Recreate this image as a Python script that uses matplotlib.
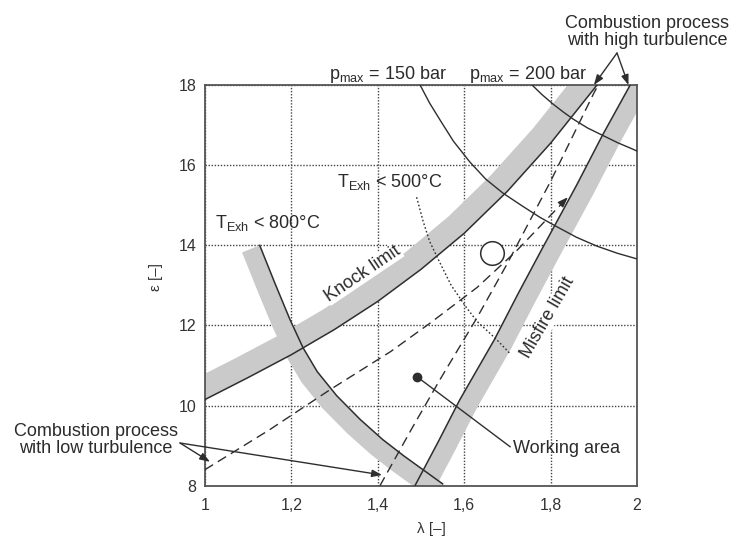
import numpy as np
import matplotlib.pyplot as plt

plt.rcParams['font.family'] = ['Liberation Sans', 'DejaVu Sans']
plt.rcParams['mathtext.default'] = 'regular'

ink = '#2e2e2e'
band_grey = '#cacaca'

# limit curves, lambda vs compression ratio epsilon
knock_lam = [1.0, 1.1, 1.2, 1.3, 1.4, 1.5, 1.6, 1.7, 1.8, 1.9, 1.907]
knock_eps = [10.15, 10.7, 11.27, 11.9, 12.6, 13.4, 14.3, 15.35, 16.55, 17.9, 18.0]

misfire_lam = [1.486, 1.54, 1.59, 1.67, 1.725, 1.782, 1.86, 1.92, 1.984]
misfire_eps = [8.0, 9.1, 10.15, 11.65, 12.8, 13.95, 15.5, 16.75, 18.0]

t800_lam = [1.127, 1.162, 1.197, 1.227, 1.26, 1.305, 1.36, 1.412, 1.46, 1.505, 1.55]
t800_eps = [14.0, 13.06, 12.15, 11.45, 10.85, 10.25, 9.65, 9.15, 8.75, 8.4, 8.05]

# low turbulence limits (dashed)
knock_low_lam = [1.0, 1.15, 1.29, 1.43, 1.52, 1.63, 1.72, 1.84]
knock_low_eps = [8.4, 9.4, 10.4, 11.35, 12.05, 12.95, 13.85, 15.2]
misfire_low_lam = [1.405, 1.48, 1.544, 1.63, 1.70, 1.80, 1.90, 1.91]
misfire_low_eps = [8.0, 9.45, 10.65, 12.2, 13.55, 15.6, 17.8, 18.0]

# exhaust temperature 500 C (dotted)
t500_lam = [1.49, 1.505, 1.52, 1.54, 1.57, 1.605, 1.63, 1.675, 1.706]
t500_eps = [15.2, 14.6, 14.1, 13.65, 13.0, 12.45, 12.1, 11.65, 11.3]

# peak pressure lines
p150_lam = [1.498, 1.52, 1.544, 1.575, 1.613, 1.65, 1.69, 1.736, 1.775, 1.815,
            1.86, 1.907, 1.955, 2.0]
p150_eps = [18.0, 17.55, 17.13, 16.6, 16.08, 15.65, 15.3, 14.97, 14.7, 14.46,
            14.2, 13.98, 13.8, 13.66]
p200_lam = [1.757, 1.78, 1.806, 1.83, 1.852, 1.885, 1.921, 1.955, 1.99, 2.0]
p200_eps = [18.0, 17.76, 17.52, 17.32, 17.15, 16.93, 16.74, 16.56, 16.4, 16.35]

opt_point = (1.664, 13.81)
work_point = (1.491, 10.72)

xticks = [1.0, 1.2, 1.4, 1.6, 1.8, 2.0]
xtick_labels = ['1', '1,2', '1,4', '1,6', '1,8', '2']
yticks = [8, 10, 12, 14, 16, 18]

fig = plt.figure(figsize=(7.34, 5.38), dpi=100)
ax = fig.add_axes([0.279, 0.097, 0.589, 0.745])
ax.set_xlim(1, 2)
ax.set_ylim(8, 18)
ax.set_xticks(xticks)
ax.set_xticklabels(xtick_labels)
ax.set_yticks(yticks)
ax.tick_params(length=0, labelsize=11.5, labelcolor='#333333')
ax.tick_params(axis='x', pad=9)
ax.tick_params(axis='y', pad=6)
for s in ax.spines.values():
    s.set_color('#555555')
    s.set_linewidth(1.3)
ax.set_axisbelow(True)
ax.grid(True, ls=(0, (1, 1.2)), color='#444444', lw=1.0)


def band(xs, ys, width, side, ext=(True, True)):
    # grey strip running along one side of a limit curve, built in pixel space
    pts = ax.transData.transform(np.column_stack([xs, ys]))
    d0 = pts[0] - pts[1]
    d1 = pts[-1] - pts[-2]
    d0 /= np.hypot(*d0)
    d1 /= np.hypot(*d1)
    if ext[0]:
        pts = np.vstack([pts[0] + d0 * 40, pts])
    if ext[1]:
        pts = np.vstack([pts, pts[-1] + d1 * 40])
    t = np.gradient(pts, axis=0)
    t /= np.hypot(t[:, 0], t[:, 1])[:, None]
    n = side * np.column_stack([-t[:, 1], t[:, 0]])
    outer = pts + n * width
    poly = ax.transData.inverted().transform(np.vstack([pts, outer[::-1]]))
    ax.fill(poly[:, 0], poly[:, 1], color=band_grey, lw=0, zorder=1)


band(knock_lam, knock_eps, 23, 1)
band(t800_lam, t800_eps, 19, -1, ext=(False, True))
band(misfire_lam, misfire_eps, 19, -1)

ax.plot(knock_lam, knock_eps, color=ink, lw=1.1, zorder=3)
ax.plot(misfire_lam, misfire_eps, color=ink, lw=1.1, zorder=3)
ax.plot(t800_lam, t800_eps, color=ink, lw=1.1, zorder=3)
ax.plot(p150_lam, p150_eps, color=ink, lw=1.0, zorder=3)
ax.plot(p200_lam, p200_eps, color=ink, lw=1.0, zorder=3)

ax.plot(knock_low_lam, knock_low_eps, color=ink, lw=1.0, ls=(0, (7, 4)), zorder=3)
ax.plot(misfire_low_lam, misfire_low_eps, color=ink, lw=1.0, ls=(0, (7, 4)), zorder=3)
ax.annotate('', xy=(knock_low_lam[-1], knock_low_eps[-1]),
            xytext=(knock_low_lam[-1] - 0.012, knock_low_eps[-1] - 0.13),
            arrowprops=dict(arrowstyle='-|>,head_length=0.6,head_width=0.22',
                            color=ink, lw=1.0, shrinkA=0, shrinkB=0))
ax.plot(t500_lam, t500_eps, color=ink, lw=1.0, ls=(0, (1.2, 1.6)), zorder=3)

ax.plot(*opt_point, 'o', ms=17, mfc='white', mec=ink, mew=1.1, zorder=4)
ax.plot(*work_point, 'o', ms=6, color=ink, zorder=4)

tkw = dict(color='#2b2b2b', fontsize=13)
ax.annotate('Working area', xy=work_point, xytext=(1.713, 8.92),
            va='center', ha='left', **tkw,
            arrowprops=dict(arrowstyle='-', color=ink, lw=1.0,
                            shrinkA=0, shrinkB=2, relpos=(0, 0.5)))

ax.text(1.424, 18.15, r'p$_{max}$ = 150 bar', ha='center', va='baseline', **tkw)
ax.text(1.748, 18.15, r'p$_{max}$ = 200 bar', ha='center', va='baseline', **tkw)
ax.text(1.023, 14.43, r'T$_{Exh}$ < 800°C', ha='left', va='baseline', **tkw)
ax.text(1.306, 15.46, r'T$_{Exh}$ < 500°C', ha='left', va='baseline', **tkw)

ax.text(1.365, 13.3, 'Knock limit', rotation=34, ha='center', va='center',
        rotation_mode='anchor', zorder=5,
        bbox=dict(fc='white', ec='none', pad=0.5), **tkw)
ax.text(1.794, 12.19, 'Misfire limit', rotation=60, ha='center', va='center',
        rotation_mode='anchor', zorder=5,
        bbox=dict(fc='white', ec='none', pad=0.5), **tkw)

# turbulence call-outs
arw = dict(arrowstyle='-|>,head_length=0.6,head_width=0.22', color=ink, lw=1.0,
           shrinkA=0, shrinkB=0)
fig.text(96, 98, 'Combustion process\nwith low turbulence', transform=None,
         ha='center', va='center', linespacing=1.0, **tkw)
for pt in [(1.012, 8.6), (1.41, 8.27)]:
    ax.annotate('', xy=pt, xytext=(180, 95), textcoords='figure pixels',
                arrowprops=arw)

fig.text(647, 506, 'Combustion process\nwith high turbulence', transform=None,
         ha='center', va='center', linespacing=1.0, **tkw)
for pt in [(1.90, 18.0), (1.98, 18.0)]:
    ax.annotate('', xy=pt, xytext=(617, 485), textcoords='figure pixels',
                arrowprops=arw, annotation_clip=False)

ax.set_xlabel('λ [–]', fontsize=11, color='#333333')
ax.set_ylabel('ε [–]', fontsize=11, color='#333333')
ax.xaxis.set_label_coords(0.525, -0.09)
ax.yaxis.set_label_coords(-0.097, 0.52)

fig.savefig('out.png', dpi=100)
